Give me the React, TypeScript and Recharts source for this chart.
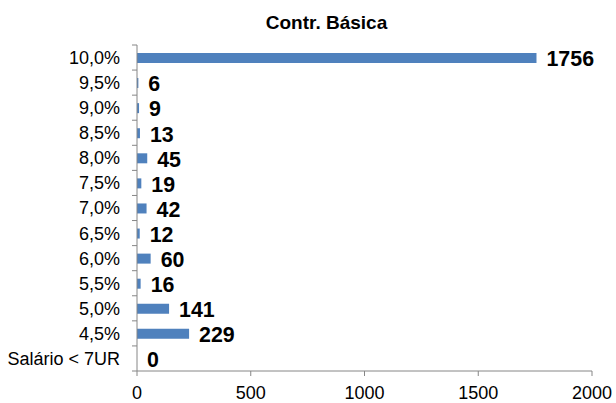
import React from "react";
import { BarChart, Bar, XAxis, YAxis, LabelList } from "recharts";

const categories = ["10,0%", "9,5%", "9,0%", "8,5%", "8,0%", "7,5%", "7,0%", "6,5%", "6,0%", "5,5%", "5,0%", "4,5%", "Salário < 7UR"];
const values = [1756, 6, 9, 13, 45, 19, 42, 12, 60, 16, 141, 229, 0];
const xTicks = [0, 500, 1000, 1500, 2000];
const title = "Contr. Básica";

const data = categories.map((c, i) => ({ cat: c, value: values[i] }));

const W = 616;
const H = 403;
const TOP = 45;
const XH = 32;
const BAND = (H - TOP - XH) / categories.length;
const FONT = '"Liberation Sans", Arial, Helvetica, sans-serif';
const AXIS = "#868686";

const YTick = (props: any) => {
  const { x, y, payload, index } = props;
  const ax = x + 17;
  return (
    <g>
      <line x1={ax - 5} x2={ax} y1={y - BAND / 2} y2={y - BAND / 2} stroke={AXIS} />
      {index === categories.length - 1 && (
        <line x1={ax - 5} x2={ax} y1={y + BAND / 2} y2={y + BAND / 2} stroke={AXIS} />
      )}
      <text x={x} y={y} dy="0.36em" textAnchor="end" fontSize={18} fontFamily={FONT} fill="#000">
        {payload.value}
      </text>
    </g>
  );
};

const ValueLabel = (props: any) => {
  const { x, y, width, height, value } = props;
  const tx = x + (width || 0) + 10;
  const ty = y + height / 2;
  return (
    <text
      transform={`translate(${tx},${ty}) scale(0.93,1)`}
      dy="0.36em"
      fontSize={23}
      fontWeight="bold"
      fontFamily={FONT}
      fill="#000"
    >
      {value}
    </text>
  );
};

export default function App() {
  return (
    <div style={{ position: "absolute", left: 0, top: 0, width: W, height: H, background: "#fff" }}>
      <BarChart
        width={W}
        height={H}
        data={data}
        layout="vertical"
        margin={{ top: TOP, right: 24, bottom: 0, left: 0 }}
      >
        <XAxis
          type="number"
          domain={[0, 2000]}
          ticks={xTicks}
          interval={0}
          height={XH}
          stroke={AXIS}
          tickSize={5}
          tickMargin={10}
          tick={{ fill: "#000", fontSize: 18, fontFamily: FONT }}
        />
        <YAxis
          type="category"
          dataKey="cat"
          width={137}
          interval={0}
          stroke={AXIS}
          tickLine={false}
          tickSize={5}
          tickMargin={12}
          tick={<YTick />}
        />
        <Bar dataKey="value" fill="#4F81BD" barSize={10} minPointSize={0.001} isAnimationActive={false}>
          <LabelList dataKey="value" content={<ValueLabel />} />
        </Bar>
      </BarChart>
      <svg width={W} height={H} style={{ position: "absolute", left: 0, top: 0, pointerEvents: "none" }}>
        <text x={326.5} y={29} textAnchor="middle" fontSize={19} fontWeight="bold" fontFamily={FONT} fill="#000">
          {title}
        </text>
      </svg>
    </div>
  );
}
